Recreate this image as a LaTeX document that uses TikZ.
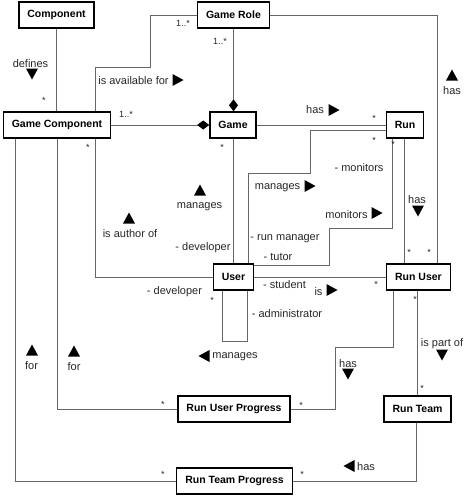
\documentclass[tikz,border=0pt]{standalone}
\usepackage{fontspec}
\setmainfont{Liberation Sans}
\usetikzlibrary{arrows.meta}

\tikzset{
  cls/.style={draw=black, line width=1.4pt, fill=white, inner xsep=8.5pt, inner ysep=0pt,
    minimum height=26pt, font=\bfseries\fontsize{10.5}{12}\selectfont},
  link/.style={draw=black!60, line width=0.9pt},
  dia/.style={-{Diamond[black,length=12pt,width=9pt]}},
  lbl/.style={inner sep=0pt, text=black!85, font=\fontsize{11}{13}\selectfont},
  mult/.style={inner sep=0pt, text=black!85, font=\fontsize{9}{11}\selectfont},
  tri up/.pic={\fill (-6,5.5) -- (6,5.5) -- (0,-5.5) -- cycle;},
  tri down/.pic={\fill (-6,-5.5) -- (6,-5.5) -- (0,5.5) -- cycle;},
  tri right/.pic={\fill (-5.5,-6) -- (-5.5,6) -- (5.5,0) -- cycle;},
  tri left/.pic={\fill (5.5,-6) -- (5.5,6) -- (-5.5,0) -- cycle;}
}

\begin{document}
\begin{tikzpicture}[x=1pt,y=-1pt]
    \useasboundingbox (0,0) rectangle (465,496);

    % osztalyok
    \node[cls] (comp) at (56.5,15) {Component};
    \node[cls] (role) at (233.5,15) {Game Role};
    \node[cls] (gcomp) at (57,125) {Game Component};
    \node[cls] (game) at (233,125) {Game};
    \node[cls] (run) at (405,125) {Run};
    \node[cls] (user) at (233.5,277) {User};
    \node[cls] (ruser) at (418.5,277) {Run User};
    \node[cls] (rup) at (234,409) {Run User Progress};
    \node[cls] (rteam) at (417.5,409) {Run Team};
    \node[cls] (rtp) at (234.5,481) {Run Team Progress};

    % felso resz
    \draw[link] (comp.south) -- (comp.south |- gcomp.north);
    \draw[link] (role.west) -| (150,67) -| ([xshift=38pt]gcomp.north);
    \draw[link,dia] (role.south) -- (role.south |- game.north);
    \draw[link,dia] (gcomp.east) -- (game.west);
    \draw[link] (game.east) -- (run.west);
    \draw[link] (role.east) -| ([xshift=18.5pt]ruser.north);

    % kozepso resz
    \draw[link] ([xshift=-1pt]run.south) -- ([xshift=-1pt]run.south |- ruser.north);
    \draw[link] ([xshift=-13pt]run.south) |- (329,228) |- ([yshift=-2pt]user.north east);
    \draw[link] ([yshift=-5pt]run.west) -| (310,173) -| ([xshift=14.5pt]user.north);
    \draw[link] (game.south) -- (game.south |- user.north);
    \draw[link] ([xshift=38pt]gcomp.south) |- (user.west);
    \draw[link] ([xshift=-11.5pt]user.south) -- ++(0,51) -| ([xshift=13.5pt]user.south);
    \draw[link] (user.east) -- (ruser.west);

    % also resz
    \draw[link] (gcomp.south) |- (rup.west);
    \draw[link] ([xshift=-42pt]gcomp.south) |- (rtp.west);
    \draw[link] ([xshift=-25.5pt]ruser.south) |- (335,347) |- (rup.east);
    \draw[link] (rteam.north |- ruser.south) -- (rteam.north);
    \draw[link] ([xshift=-1pt]rteam.south) |- (rtp.east);

    % feliratok es nyilak
    \node[lbl] (l1) at (30.5,64) {defines};
    \pic at (32,74) {tri down};
    \node[mult] (m1) at (44,100) {*};
    \node[mult] (m2) at (183,23) {1..*};
    \node[lbl] (l2) at (133.5,81) {is available for};
    \pic at (178,80) {tri right};
    \node[mult] (m3) at (220,41) {1..*};
    \node[mult] (m4) at (126,114) {1..*};
    \node[mult] (m5) at (88,147) {*};
    \node[mult] (m6) at (222,147) {*};
    \node[lbl] (l3) at (315,110) {has};
    \pic at (334,110) {tri right};
    \node[mult] (m7) at (374,118) {*};
    \node[mult] (m8) at (374,140) {*};
    \node[mult] (m9) at (393,144) {*};
    \pic at (452,75) {tri up};
    \node[lbl] (l4) at (452,91) {has};
    \node[lbl] (l5) at (359,168) {- monitors};
    \node[lbl] (l6) at (277.5,188) {manages};
    \pic at (310,186) {tri right};
    \node[lbl] (l7) at (346.5,215) {monitors};
    \pic at (377,213) {tri right};
    \node[lbl] (l8) at (417,200) {has};
    \pic at (418,211) {tri down};
    \node[mult] (m10) at (409,252) {*};
    \node[mult] (m11) at (429,252) {*};
    \pic at (200,190) {tri up};
    \node[lbl] (l9) at (199.5,207) {manages};
    \pic at (129,218) {tri up};
    \node[lbl] (l10) at (130,234) {is author of};
    \node[lbl] (l11) at (203,248) {- developer};
    \node[lbl] (l12) at (285,239) {- run manager};
    \node[lbl] (l13) at (278,257) {- tutor};
    \node[lbl] (l14) at (284.5,285) {- student};
    \node[lbl] (l15) at (318.5,292) {is};
    \pic at (332,290) {tri right};
    \node[mult] (m12) at (376,284) {*};
    \node[lbl] (l16) at (174.5,292) {- developer};
    \node[mult] (m13) at (212,300) {*};
    \node[lbl] (l17) at (287,314) {- administrator};
    \node[mult] (m14) at (415,299) {*};
    \pic at (204,356) {tri left};
    \node[lbl] (l18) at (235,357) {manages};
    \node[lbl] (l19) at (442,344) {is part of};
    \pic at (442,355) {tri down};
    \node[lbl] (l20) at (348,364) {has};
    \pic at (348,374) {tri down};
    \node[mult] (m15) at (301,405) {*};
    \node[mult] (m16) at (422,388) {*};
    \pic at (349,466) {tri left};
    \node[lbl] (l21) at (366,467) {has};
    \node[mult] (m17) at (302,474) {*};
    \pic at (32,350) {tri up};
    \node[lbl] (l22) at (31.5,366) {for};
    \pic at (74,351) {tri up};
    \node[lbl] (l23) at (74,367) {for};
    \node[mult] (m18) at (163,404) {*};
    \node[mult] (m19) at (163,474) {*};
\end{tikzpicture}
\end{document}
